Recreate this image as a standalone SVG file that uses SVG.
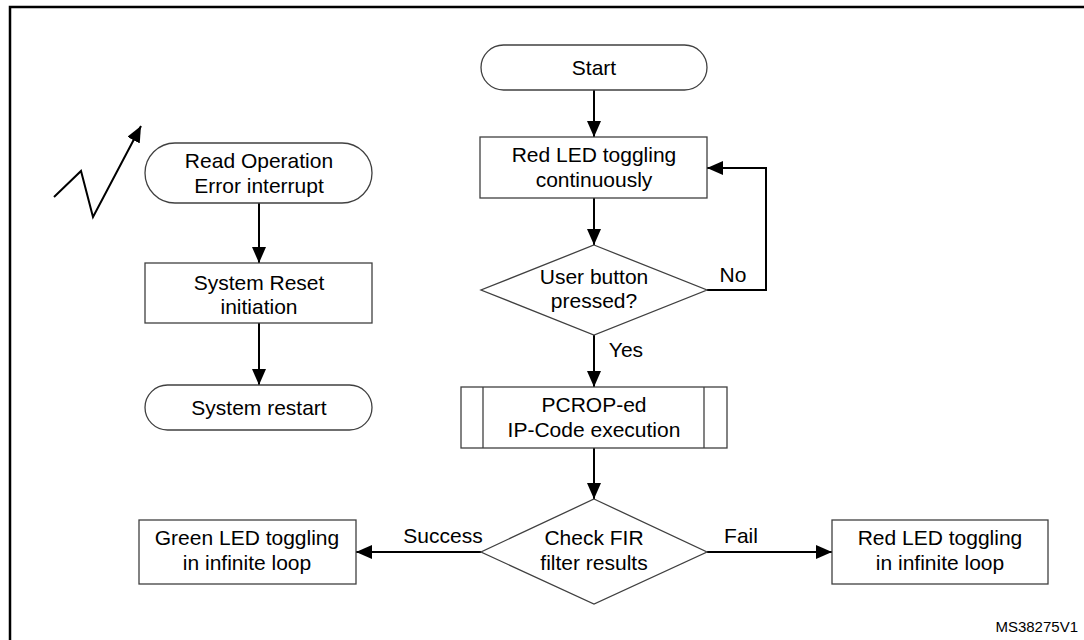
<svg xmlns="http://www.w3.org/2000/svg" width="1084" height="640" viewBox="0 0 1084 640">
  <style>
    .shape { fill: #ffffff; stroke: #404040; stroke-width: 1.3; }
    .edge { fill: none; stroke: #000000; stroke-width: 2; }
    .lbl { font-family: "Liberation Sans", Arial, sans-serif; font-size: 21px; fill: #000000; text-anchor: middle; }
    .small { font-family: "Liberation Sans", Arial, sans-serif; font-size: 15px; fill: #000000; text-anchor: end; }
  </style>
  <defs>
    <marker id="arrow" viewBox="0 0 16 14" refX="16" refY="7" markerWidth="16" markerHeight="14" markerUnits="userSpaceOnUse" orient="auto">
      <path d="M0,0 L16,7 L0,14 Z" fill="#000000"/>
    </marker>
  </defs>

  <rect width="1084" height="640" fill="#ffffff"/>

  <!-- outer frame -->
  <path d="M10,650 L10,7 L1090,7" fill="none" stroke="#000000" stroke-width="2.5"/>

  <!-- connectors -->
  <g id="connectors">
    <path class="edge" d="M594,90 L594,137" marker-end="url(#arrow)"/>
    <path class="edge" d="M594,198 L594,245" marker-end="url(#arrow)"/>
    <path class="edge" d="M707,290 L766,290 L766,168 L707,168" marker-end="url(#arrow)"/>
    <path class="edge" d="M594,335 L594,387" marker-end="url(#arrow)"/>
    <path class="edge" d="M594,448 L594,499" marker-end="url(#arrow)"/>
    <path class="edge" d="M481,552 L356,552" marker-end="url(#arrow)"/>
    <path class="edge" d="M707,552 L832,552" marker-end="url(#arrow)"/>
    <path class="edge" d="M259,203 L259,263" marker-end="url(#arrow)"/>
    <path class="edge" d="M259,323 L259,385" marker-end="url(#arrow)"/>
    <!-- interrupt symbol -->
    <path class="edge" d="M54,197 L81,171 L93,217 L141,126" marker-end="url(#arrow)"/>
    <text class="lbl" x="733" y="282">No</text>
    <text class="lbl" x="626" y="357">Yes</text>
    <text class="lbl" x="443" y="543">Success</text>
    <text class="lbl" x="741" y="543">Fail</text>
  </g>

  <g id="start">
    <rect class="shape" x="481" y="45" width="226" height="45" rx="22.5" ry="22.5"/>
    <text class="lbl" x="594" y="75">Start</text>
  </g>

  <g id="red-led-toggling">
    <rect class="shape" x="480" y="137" width="227" height="61"/>
    <text class="lbl" x="594" y="162">Red LED toggling</text>
    <text class="lbl" x="594" y="187">continuously</text>
  </g>

  <g id="user-button">
    <polygon class="shape" points="594,245 707,290 594,335 481,290"/>
    <text class="lbl" x="594" y="284">User button</text>
    <text class="lbl" x="594" y="308">pressed?</text>
  </g>

  <g id="pcrop-code">
    <rect class="shape" x="461" y="387" width="266" height="61"/>
    <line class="shape" x1="483" y1="387" x2="483" y2="448"/>
    <line class="shape" x1="704" y1="387" x2="704" y2="448"/>
    <text class="lbl" x="594" y="412">PCROP-ed</text>
    <text class="lbl" x="594" y="437">IP-Code execution</text>
  </g>

  <g id="check-fir">
    <polygon class="shape" points="594,499 707,552 594,604 481,552"/>
    <text class="lbl" x="594" y="545">Check FIR</text>
    <text class="lbl" x="594" y="570">filter results</text>
  </g>

  <g id="green-led-loop">
    <rect class="shape" x="139" y="520" width="217" height="64"/>
    <text class="lbl" x="247" y="545">Green LED toggling</text>
    <text class="lbl" x="247" y="570">in infinite loop</text>
  </g>

  <g id="red-led-loop">
    <rect class="shape" x="832" y="520" width="216" height="64"/>
    <text class="lbl" x="940" y="545">Red LED toggling</text>
    <text class="lbl" x="940" y="570">in infinite loop</text>
  </g>

  <g id="read-error-interrupt">
    <rect class="shape" x="145" y="143" width="227" height="60" rx="30" ry="30"/>
    <text class="lbl" x="259" y="168">Read Operation</text>
    <text class="lbl" x="259" y="193">Error interrupt</text>
  </g>

  <g id="system-reset">
    <rect class="shape" x="145" y="263" width="227" height="60"/>
    <text class="lbl" x="259" y="290">System Reset</text>
    <text class="lbl" x="259" y="314">initiation</text>
  </g>

  <g id="system-restart">
    <rect class="shape" x="145" y="385" width="227" height="45" rx="22.5" ry="22.5"/>
    <text class="lbl" x="259" y="415">System restart</text>
  </g>

  <text class="small" x="1078" y="632">MS38275V1</text>
</svg>
